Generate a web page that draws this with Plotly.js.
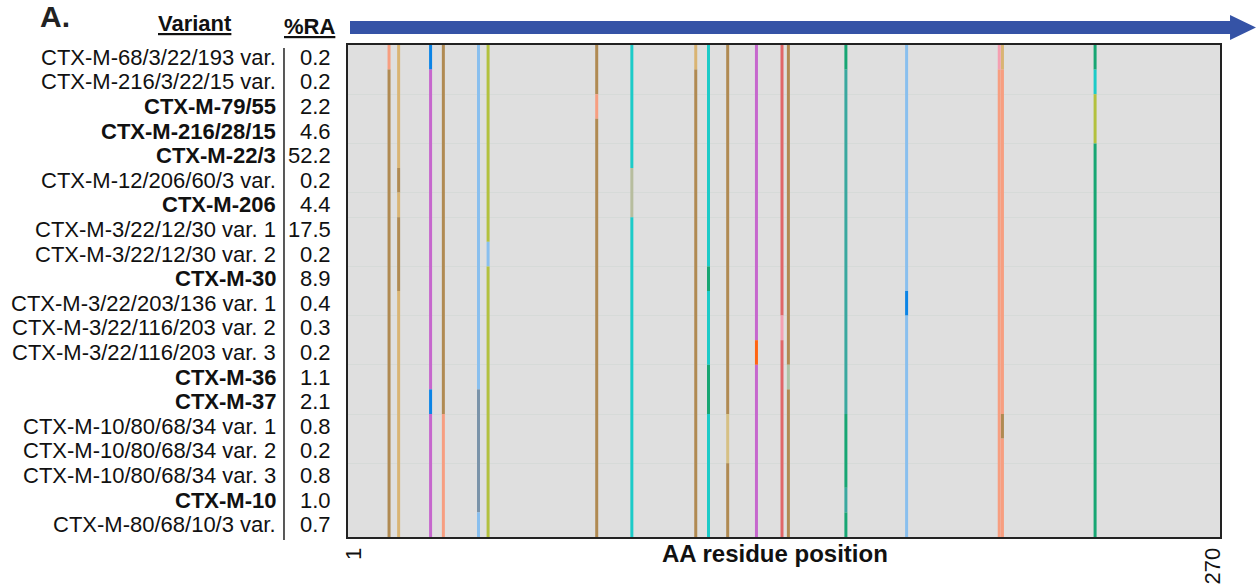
<!DOCTYPE html>
<html>
<head>
<meta charset="utf-8">
<script src="https://cdn.plot.ly/plotly-3.0.1.min.js"></script>
<style>html,body{margin:0;padding:0;background:#fff;}#chart{width:1256px;height:586px;}</style>
</head>
<body>
<div id="chart"></div>
<script>
// ---- data ----
const variants = [
  "CTX-M-68/3/22/193 var.", "CTX-M-216/3/22/15 var.", "CTX-M-79/55", "CTX-M-216/28/15",
  "CTX-M-22/3", "CTX-M-12/206/60/3 var.", "CTX-M-206", "CTX-M-3/22/12/30 var. 1",
  "CTX-M-3/22/12/30 var. 2", "CTX-M-30", "CTX-M-3/22/203/136 var. 1", "CTX-M-3/22/116/203 var. 2",
  "CTX-M-3/22/116/203 var. 3", "CTX-M-36", "CTX-M-37", "CTX-M-10/80/68/34 var. 1",
  "CTX-M-10/80/68/34 var. 2", "CTX-M-10/80/68/34 var. 3", "CTX-M-10", "CTX-M-80/68/10/3 var."
];
const relAbundance = ["0.2","0.2","2.2","4.6","52.2","0.2","4.4","17.5","0.2","8.9","0.4","0.3","0.2","1.1","2.1","0.8","0.2","0.8","1.0","0.7"];
const isNamedVariant = [0,0,1,1,1,0,1,0,0,1,0,0,0,1,1,0,0,0,1,0];
const groupBreaks = [1.5, 3.5, 5.5, 6.5, 8.5, 10.5, 12.5, 14.5, 16.5];

// variable residue positions and residue class per variant (one letter per row)
const positions = [12, 15, 25, 29, 40, 43, 77, 88, 108, 112, 118, 127, 135, 137, 155, 174, 203, 204, 233];
const residues = [
  "SBBBBBBBBBBBBBBBBBBB", // 12
  "TTTTTBTBBBTTTTTTTTTT", // 15
  "UPPPPPPPPPPPPPUPPPPP", // 25
  "BBBBBBBBBBBBBBBSSSSS", // 29
  "LLLLLLLLLLLLLLVVVVVL", // 40
  "YYYYYYYYLYYYYYYYYYYY", // 43
  "BBSBBBBBBBBBBBBBBBBB", // 77
  "CCCCCGGCCCCCCCCCCCCC", // 88
  "TBBBBBBBBBBBBBBBBBBB", // 108
  "CCCCCCCCCDCCCDDCCCCC", // 112
  "BBBBBBBBBBBBBBBWWBBB", // 118
  "PPPPPPPPPPPPOPPPPPPP", // 127
  "RRRRRRRRRRRKRRRRRRRR", // 135
  "BBBBBBBBBBBBBNBBBBBB", // 137
  "DEEEEEEEEEEEEEEDDDED", // 155
  "LLLLLLLLLLULLLLLLLLL", // 174
  "KSSSSSSSSSSSSSSSSSSS", // 203
  "TSSSSSSSSSSSSSSBSSSS", // 204
  "DCYYDDDDDDDDDDDDDDDD"  // 233
];
const xTickVals = [1, 270];
const xTickText = ["1", "270"];

// ---- styles ----
const palette = {
  B: "#b08a52", T: "#d9b473", S: "#f79e80", U: "#0b84e6", P: "#c667cd",
  L: "#89bfee", Y: "#b3c13e", C: "#1ccbc8", G: "#b7bd9e", D: "#17a673",
  R: "#e16668", O: "#ff6412", K: "#f59fb1", E: "#3aa89f", V: "#7a93a9",
  W: "#d6c084", N: "#afc3a7"
};
const FONT = "Liberation Sans, Arial, sans-serif";

const traces = [];
positions.forEach((pos, ci) => {
  const col = residues[ci];
  let start = 0;
  for (let r = 1; r <= col.length; r++) {
    if (r === col.length || col[r] !== col[start]) {
      traces.push({
        type: "scatter", mode: "lines",
        x: [pos, pos], y: [start - 0.5, r - 0.5],
        line: {color: palette[col[start]], width: 3},
        hoverinfo: "skip", showlegend: false
      });
      start = r;
    }
  }
});

const annotations = [];
variants.forEach((v, i) => {
  annotations.push({
    xref: "paper", yref: "y", x: -0.0803, y: i, xanchor: "right", yanchor: "middle",
    text: isNamedVariant[i] ? "<b>" + v + "</b>" : v, showarrow: false,
    font: {family: FONT, size: 22, color: "#111"}
  });
  annotations.push({
    xref: "paper", yref: "y", x: -0.0172, y: i, xanchor: "right", yanchor: "middle",
    text: relAbundance[i], showarrow: false,
    font: {family: FONT, size: 22, color: "#111"}
  });
});
annotations.push({xref: "paper", yref: "paper", x: -0.1755, y: 1.043, xanchor: "center", yanchor: "middle",
  text: "<b><u>Variant</u></b>", showarrow: false, font: {family: FONT, size: 22, color: "#111"}});
annotations.push({xref: "paper", yref: "paper", x: -0.0436, y: 1.037, xanchor: "center", yanchor: "middle",
  text: "<b><u>%RA</u></b>", showarrow: false, font: {family: FONT, size: 22, color: "#111"}});
annotations.push({xref: "paper", yref: "paper", x: -0.3555, y: 1.058, xanchor: "left", yanchor: "middle",
  text: "<b>A.</b>", showarrow: false, font: {family: FONT, size: 30, color: "#222"}});
annotations.push({xref: "paper", yref: "paper", x: 0.49, y: -0.033, xanchor: "center", yanchor: "middle",
  text: "<b>AA residue position</b>", showarrow: false, font: {family: FONT, size: 24, color: "#111"}});

const shapes = [
  // separator between names and %RA
  {type: "line", xref: "paper", yref: "paper", x0: -0.0734, x1: -0.0734, y0: -0.006, y1: 0.994,
   line: {color: "#222", width: 1.5}},
  // direction arrow
  {type: "path", xref: "paper", yref: "paper",
   path: "M 0.0023 1.0224 L 1.0115 1.0224 L 1.0115 1.0102 L 1.0413 1.0356 L 1.0115 1.061 L 1.0115 1.0488 L 0.0023 1.0488 Z",
   fillcolor: "#3553a6", line: {width: 0}}
];

const layout = {
  width: 1256, height: 586,
  margin: {l: 348, r: 36, t: 45, b: 49},
  paper_bgcolor: "#ffffff", plot_bgcolor: "#dfdfdf",
  showlegend: false,
  xaxis: {
    range: [-0.85, 272.1], tickvals: xTickVals, ticktext: xTickText, tickangle: -90,
    ticks: "", showgrid: false, zeroline: false,
    showline: true, mirror: true, linecolor: "#222", linewidth: 2,
    tickfont: {family: FONT, size: 22, color: "#111"}, fixedrange: true
  },
  yaxis: {
    range: [19.5, -0.5], tickvals: groupBreaks, showticklabels: false, ticks: "",
    showgrid: true, gridcolor: "#d6dad8", gridwidth: 1, zeroline: false,
    showline: true, mirror: true, linecolor: "#222", linewidth: 2, fixedrange: true
  },
  annotations: annotations,
  shapes: shapes
};

Plotly.newPlot("chart", traces, layout, {displayModeBar: false, staticPlot: true});
</script>
</body>
</html>
